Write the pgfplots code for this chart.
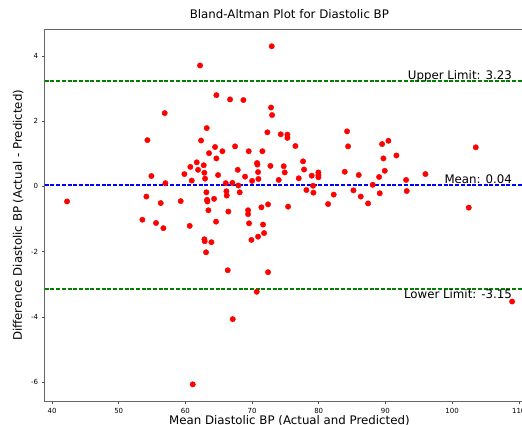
\documentclass[border=0pt]{standalone}
\usepackage{fontspec}
\setmainfont{DejaVu Sans}
\usepackage{pgfplots}
\pgfplotsset{compat=1.18}
\definecolor{mplgreen}{RGB}{0,128,0}
\definecolor{mplblue}{RGB}{0,0,255}
\definecolor{mplred}{RGB}{255,0,0}
\begin{document}
\begin{tikzpicture}[x=1pt,y=1pt]
\useasboundingbox (0,0) rectangle (522,424);
\begin{axis}[
  at={(44.7pt,394.7pt)}, anchor=north west,
  width=489.4pt, height=372pt, scale only axis,
  xmin=38.9, xmax=112.3, ymin=-6.59, ymax=4.82,
  xtick={40,50,...,110}, ytick={-6,-4,...,4},
  tick align=outside, major tick length=3pt,
  tick style={black!70, line width=0.5pt},
  xtick pos=bottom, ytick pos=left,
  tick label style={font=\fontsize{7}{8}\selectfont},
  /pgf/number format/assume math mode=true,
  axis line style={black!60, line width=0.6pt},
  title={Bland-Altman Plot for Diastolic BP},
  title style={font=\fontsize{11.8}{13}\selectfont, at={(axis description cs:0.5,1.0129)}, anchor=base},
  xlabel={Mean Diastolic BP (Actual and Predicted)},
  ylabel={Difference Diastolic BP (Actual - Predicted)},
  xlabel style={font=\fontsize{11.8}{13}\selectfont, at={(axis description cs:0.5,-0.0634)}, anchor=base},
  ylabel style={font=\fontsize{11.8}{13}\selectfont, at={(axis description cs:-0.0464,0.5)}, anchor=base, rotate=0},
  clip=false,
]
\addplot[mplgreen, mark=none, line width=1.5pt, dashed, dash pattern=on 4pt off 1.7pt] table {
x y
38.9 3.23
112.3 3.23
};
\addplot[mplblue, mark=none, line width=1.5pt, dashed, dash pattern=on 4pt off 1.7pt] table {
x y
38.9 0.04
112.3 0.04
};
\addplot[mplgreen, mark=none, line width=1.5pt, dashed, dash pattern=on 4pt off 1.7pt] table {
x y
38.9 -3.15
112.3 -3.15
};
\addplot[only marks, mark=*, mark size=2.7pt, color=mplred, mark options={draw=mplred, fill=mplred}] coordinates {
(62.2,3.71) (72.95,4.30) (64.65,2.80) (66.7,2.67) (68.7,2.65) (56.9,2.25)
(72.85,2.42) (73.0,2.19) (63.2,1.79) (54.3,1.42) (62.35,1.41) (72.3,1.66)
(74.3,1.60) (75.3,1.59) (75.3,1.49) (76.5,1.24) (84.25,1.69) (84.4,1.23)
(64.45,1.21) (67.45,1.23) (63.55,1.02) (65.55,1.08) (69.5,1.08) (71.55,1.08)
(64.65,0.86) (61.7,0.74) (62.75,0.65) (60.75,0.60) (61.9,0.51) (62.85,0.42)
(62.95,0.24) (59.85,0.38) (60.95,0.18) (54.9,0.32) (57.0,0.10) (64.9,0.35)
(67.85,0.51) (68.95,0.30) (70.0,0.17) (70.75,0.72) (70.8,0.67) (70.9,0.44)
(70.95,0.23) (72.75,0.63) (74.0,0.20) (74.75,0.62) (74.9,0.43) (77.0,0.25)
(77.65,0.77) (77.8,0.52) (78.95,0.33) (79.95,0.43) (79.95,0.35) (79.95,0.28)
(83.9,0.45) (86.0,0.35) (89.05,0.29) (89.5,1.30) (90.45,1.40) (89.7,0.86)
(91.65,0.95) (89.9,0.48) (96.0,0.38) (93.1,0.20) (103.55,1.20) (66.05,0.10)
(67.05,0.11) (88.1,0.05) (79.15,0.02) (67.95,0.03)
(42.25,-0.46) (54.15,-0.31) (56.3,-0.51) (59.3,-0.45) (63.15,-0.18) (63.25,-0.41)
(63.3,-0.46) (63.45,-0.73) (64.3,-0.38) (66.15,-0.15) (66.2,-0.28) (68.15,-0.18)
(66.45,-0.77) (69.4,-0.73) (69.4,-0.85) (71.4,-0.64) (72.4,-0.55) (75.4,-0.62)
(78.15,-0.11) (79.2,-0.19) (81.4,-0.54) (82.25,-0.25) (85.2,-0.12) (86.3,-0.31)
(87.4,-0.52) (89.15,-0.21) (93.2,-0.14) (102.5,-0.65) (53.55,-1.02) (55.6,-1.12)
(56.7,-1.28) (60.65,-1.21) (64.6,-1.08) (69.55,-1.13) (71.65,-1.17) (71.8,-1.43)
(70.9,-1.54) (69.9,-1.64) (62.85,-1.62) (62.9,-1.68) (63.9,-1.71) (63.1,-2.02)
(66.35,-2.57) (72.4,-2.63) (70.7,-3.23) (67.1,-4.07) (61.1,-6.07) (109.0,-3.53)
};
\node[anchor=base east, inner sep=0pt, yshift=2pt, font=\fontsize{11.8}{13}\selectfont] at (axis cs:109.0,3.23) {Upper Limit: 3.23};
\node[anchor=base east, inner sep=0pt, yshift=2pt, font=\fontsize{11.8}{13}\selectfont] at (axis cs:109.0,0.04) {Mean: 0.04};
\node[anchor=base east, inner sep=0pt, yshift=-9.5pt, font=\fontsize{11.8}{13}\selectfont] at (axis cs:109.0,-3.15) {Lower Limit: -3.15};
\end{axis}
\end{tikzpicture}
\end{document}
